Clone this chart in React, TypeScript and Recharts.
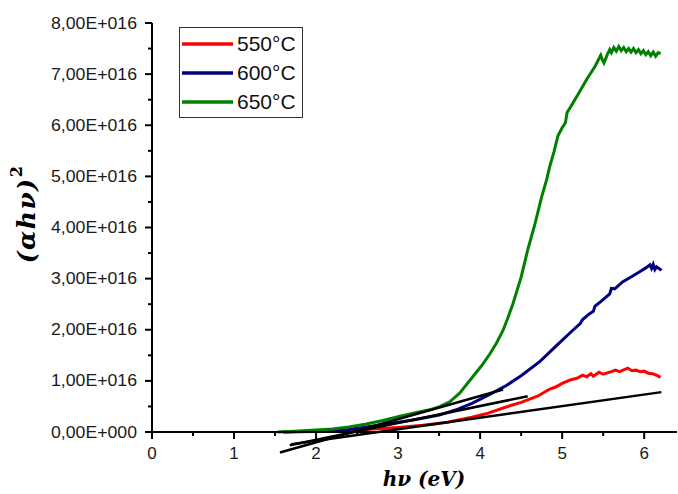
import React from 'react';
import { LineChart, Line, XAxis, YAxis, Legend, ReferenceLine, Label } from 'recharts';

// values: x in eV, y in units of 1E+016
const series550 = [
  { x: 1.6, y: 0.0 }, { x: 2.0, y: 0.01 }, { x: 2.4, y: 0.03 }, { x: 2.8, y: 0.07 },
  { x: 3.0, y: 0.09 }, { x: 3.3, y: 0.13 }, { x: 3.6, y: 0.19 }, { x: 3.9, y: 0.29 },
  { x: 4.1, y: 0.37 }, { x: 4.3, y: 0.48 }, { x: 4.5, y: 0.58 }, { x: 4.7, y: 0.7 },
  { x: 4.85, y: 0.84 }, { x: 4.92, y: 0.88 }, { x: 5.0, y: 0.95 }, { x: 5.1, y: 1.02 },
  { x: 5.18, y: 1.05 }, { x: 5.25, y: 1.11 }, { x: 5.3, y: 1.08 }, { x: 5.35, y: 1.14 },
  { x: 5.38, y: 1.09 }, { x: 5.45, y: 1.17 }, { x: 5.5, y: 1.13 }, { x: 5.6, y: 1.18 },
  { x: 5.65, y: 1.21 }, { x: 5.7, y: 1.18 }, { x: 5.8, y: 1.25 }, { x: 5.85, y: 1.2 },
  { x: 5.9, y: 1.21 }, { x: 5.95, y: 1.18 }, { x: 6.0, y: 1.19 }, { x: 6.05, y: 1.15 },
  { x: 6.1, y: 1.14 }, { x: 6.15, y: 1.11 }, { x: 6.2, y: 1.07 },
];

const series600 = [
  { x: 1.6, y: 0.0 }, { x: 2.0, y: 0.02 }, { x: 2.4, y: 0.05 }, { x: 2.7, y: 0.12 },
  { x: 3.0, y: 0.19 }, { x: 3.2, y: 0.24 }, { x: 3.5, y: 0.33 }, { x: 3.7, y: 0.43 },
  { x: 3.9, y: 0.56 }, { x: 4.1, y: 0.72 }, { x: 4.32, y: 0.91 }, { x: 4.5, y: 1.1 },
  { x: 4.73, y: 1.38 }, { x: 4.95, y: 1.72 }, { x: 5.13, y: 1.99 }, { x: 5.22, y: 2.12 },
  { x: 5.25, y: 2.2 }, { x: 5.33, y: 2.31 }, { x: 5.38, y: 2.36 }, { x: 5.4, y: 2.46 },
  { x: 5.47, y: 2.55 }, { x: 5.58, y: 2.7 }, { x: 5.6, y: 2.81 }, { x: 5.64, y: 2.8 },
  { x: 5.74, y: 2.94 }, { x: 5.85, y: 3.04 }, { x: 5.94, y: 3.13 }, { x: 6.02, y: 3.21 },
  { x: 6.07, y: 3.27 }, { x: 6.09, y: 3.2 }, { x: 6.11, y: 3.28 }, { x: 6.13, y: 3.18 },
  { x: 6.15, y: 3.23 }, { x: 6.18, y: 3.2 }, { x: 6.21, y: 3.16 },
];

const series650 = [
  { x: 1.53, y: 0.0 }, { x: 1.8, y: 0.02 }, { x: 2.0, y: 0.04 }, { x: 2.2, y: 0.06 },
  { x: 2.4, y: 0.1 }, { x: 2.6, y: 0.15 }, { x: 2.8, y: 0.22 }, { x: 3.0, y: 0.3 },
  { x: 3.2, y: 0.37 }, { x: 3.4, y: 0.44 }, { x: 3.5, y: 0.49 }, { x: 3.63, y: 0.59 },
  { x: 3.75, y: 0.76 }, { x: 3.91, y: 1.08 }, { x: 4.02, y: 1.3 }, { x: 4.12, y: 1.53 },
  { x: 4.2, y: 1.74 }, { x: 4.28, y: 1.99 }, { x: 4.34, y: 2.24 }, { x: 4.4, y: 2.51 },
  { x: 4.5, y: 3.03 }, { x: 4.58, y: 3.56 }, { x: 4.67, y: 4.08 }, { x: 4.75, y: 4.6 },
  { x: 4.81, y: 4.93 }, { x: 4.85, y: 5.2 }, { x: 4.9, y: 5.48 }, { x: 4.95, y: 5.8 },
  { x: 5.0, y: 5.95 }, { x: 5.04, y: 6.05 }, { x: 5.06, y: 6.25 }, { x: 5.1, y: 6.35 },
  { x: 5.2, y: 6.62 }, { x: 5.3, y: 6.9 }, { x: 5.4, y: 7.15 }, { x: 5.47, y: 7.37 },
  { x: 5.49, y: 7.28 }, { x: 5.51, y: 7.22 }, { x: 5.55, y: 7.38 }, { x: 5.58, y: 7.48 },
  { x: 5.6, y: 7.42 }, { x: 5.63, y: 7.52 }, { x: 5.66, y: 7.45 }, { x: 5.69, y: 7.54 },
  { x: 5.72, y: 7.46 }, { x: 5.75, y: 7.52 }, { x: 5.78, y: 7.44 }, { x: 5.81, y: 7.5 },
  { x: 5.84, y: 7.43 }, { x: 5.87, y: 7.5 }, { x: 5.9, y: 7.42 }, { x: 5.93, y: 7.48 },
  { x: 5.96, y: 7.4 }, { x: 5.99, y: 7.46 }, { x: 6.02, y: 7.38 }, { x: 6.05, y: 7.44 },
  { x: 6.08, y: 7.36 }, { x: 6.11, y: 7.43 }, { x: 6.14, y: 7.35 }, { x: 6.17, y: 7.42 },
  { x: 6.2, y: 7.4 },
];

const tangent650 = [{ x: 1.56, y: -0.4 }, { x: 4.28, y: 0.83 }];
const tangent600 = [{ x: 1.68, y: -0.26 }, { x: 4.58, y: 0.7 }];
const tangent550 = [{ x: 1.7, y: -0.24 }, { x: 6.21, y: 0.78 }];

const seriesNames = ['550°C', '600°C', '650°C'];
const seriesColors = ['#ff0000', '#000080', '#008000'];

const xTicks = [0, 0.5, 1, 1.5, 2, 2.5, 3, 3.5, 4, 4.5, 5, 5.5, 6];
const xTickLabels = ['0', '1', '2', '3', '4', '5', '6'];
const yTicks = [0, 0.5, 1, 1.5, 2, 2.5, 3, 3.5, 4, 4.5, 5, 5.5, 6, 6.5, 7, 7.5, 8];
const yTickLabels = [
  '0,00E+000', '1,00E+016', '2,00E+016', '3,00E+016', '4,00E+016',
  '5,00E+016', '6,00E+016', '7,00E+016', '8,00E+016',
];

const tickFont = { fontFamily: '"Liberation Sans", Arial, sans-serif', fontSize: 16, fill: '#1a1a1a' };

const XTick = (props: any) => {
  const { x, y, payload } = props;
  const v = payload.value;
  const major = Number.isInteger(v);
  return (
    <g>
      <line x1={x} x2={x} y1={y} y2={y + (major ? 7 : 4)} stroke="#000" strokeWidth={2} />
      {major && (
        <text x={x} y={y + 21} textAnchor="middle" dominantBaseline="central" {...tickFont} fontSize={17}>
          {xTickLabels[v]}
        </text>
      )}
    </g>
  );
};

const YTick = (props: any) => {
  const { x, y, payload } = props;
  const v = payload.value;
  const major = Number.isInteger(v);
  return (
    <g>
      <line x1={x - (major ? 7 : 4)} x2={x} y1={y} y2={y} stroke="#000" strokeWidth={2} />
      {major && (
        <text
          x={x - 15}
          y={y}
          textAnchor="end"
          dominantBaseline="central"
          textLength={86}
          lengthAdjust="spacingAndGlyphs"
          {...tickFont}
        >
          {yTickLabels[v]}
        </text>
      )}
    </g>
  );
};

const LegendBox = (props: any) => {
  const payload = (props.payload || []).filter((p: any) => seriesNames.includes(p.value));
  return (
    <div
      style={{
        width: 122,
        height: 89,
        border: '1px solid #333',
        background: '#fff',
        position: 'relative',
      }}
    >
      {payload.map((p: any, i: number) => (
        <div key={p.value} style={{ position: 'absolute', left: 0, top: 3 + i * 29.2, height: 26, width: 122 }}>
          <svg width={56} height={26} style={{ position: 'absolute', left: 0, top: 0 }}>
            <line x1={2} x2={53} y1={13} y2={13} stroke={p.color} strokeWidth={3.5} />
          </svg>
          <span
            style={{
              position: 'absolute',
              left: 57,
              top: 0,
              lineHeight: '26px',
              fontFamily: '"Liberation Sans", Arial, sans-serif',
              fontSize: 21,
              color: '#111',
              whiteSpace: 'nowrap',
            }}
          >
            {p.value}
          </span>
        </div>
      ))}
    </div>
  );
};

const YLabel = () => (
  <text
    x={26}
    y={214}
    transform="rotate(-90, 26, 214)"
    textAnchor="middle"
    dominantBaseline="central"
    fontFamily='"DejaVu Serif", serif'
    fontWeight="bold"
    fontStyle="italic"
    fontSize={25}
    letterSpacing={1.5}
    fill="#000"
  >
    (αhν)
    <tspan fontSize={16} dy={-10} fontStyle="normal">2</tspan>
  </text>
);

const XLabel = () => (
  <text
    x={424}
    y={479}
    textAnchor="middle"
    dominantBaseline="central"
    fontFamily='"DejaVu Serif", serif'
    fontWeight="bold"
    fontStyle="italic"
    fontSize={20}
    fill="#000"
  >
    hν (eV)
  </text>
);

export default function App() {
  const all = [series550, series600, series650];
  const tangents = [tangent550, tangent600, tangent650];
  return (
    <div style={{ position: 'absolute', left: 0, top: 0, width: 678, height: 494, background: '#fff' }}>
      <LineChart width={678} height={494} margin={{ top: 23, right: 1, left: 0, bottom: 32 }}>
        <XAxis
          type="number"
          dataKey="x"
          domain={[0, 6.4]}
          ticks={xTicks}
          interval={0}
          height={30}
          tickSize={0}
          tickMargin={0}
          tickLine={false}
          axisLine={{ stroke: '#000', strokeWidth: 2 }}
          tick={<XTick />}
        >
          <Label content={<XLabel />} />
        </XAxis>
        <YAxis
          type="number"
          domain={[0, 8]}
          ticks={yTicks}
          interval={0}
          width={152}
          tickSize={0}
          tickMargin={0}
          tickLine={false}
          axisLine={{ stroke: '#000', strokeWidth: 2 }}
          tick={<YTick />}
        >
          <Label content={<YLabel />} />
        </YAxis>
        <Legend
          content={<LegendBox />}
          wrapperStyle={{
            position: 'absolute',
            left: 179,
            top: 27,
            width: 0,
            height: 0,
            overflow: 'visible',
            bottom: 'auto',
            right: 'auto',
          }}
        />
        {all.map((d, i) => (
          <Line
            key={seriesNames[i]}
            data={d}
            dataKey="y"
            name={seriesNames[i]}
            type="linear"
            stroke={seriesColors[i]}
            strokeWidth={3}
            dot={false}
            activeDot={false}
            isAnimationActive={false}
            legendType="line"
          />
        ))}
        {tangents.map((t, i) => (
          <ReferenceLine
            key={'t' + i}
            segment={t}
            stroke="#000"
            strokeWidth={2.5}
            ifOverflow="visible"
          />
        ))}
      </LineChart>
    </div>
  );
}
